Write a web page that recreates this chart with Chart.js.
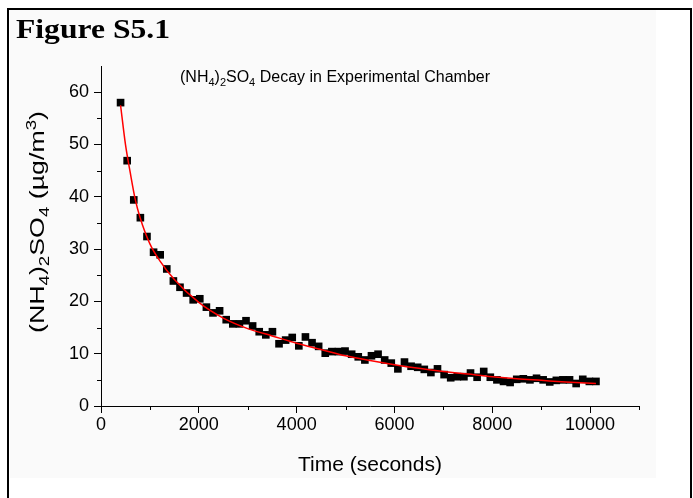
<!DOCTYPE html>
<html>
<head>
<meta charset="utf-8">
<script src="https://cdn.jsdelivr.net/npm/chart.js@4.4.1/dist/chart.umd.min.js"></script>
<style>
  html, body { margin: 0; padding: 0; background: #ffffff; }
  #c { display: block; }
</style>
</head>
<body>
<canvas id="c" width="693" height="498"></canvas>
<script>
// ---- Data ----
const timeSeconds = [400,535,670,805,940,1075,1210,1345,1480,1615,1750,1885,2020,2155,2290,2425,2560,2695,2830,2965,3100,3235,3370,3505,3640,3775,3910,4045,4180,4315,4450,4585,4720,4855,4990,5125,5260,5395,5530,5665,5800,5935,6070,6205,6340,6475,6610,6745,6880,7015,7150,7285,7420,7555,7690,7825,7960,8095,8230,8365,8500,8635,8770,8905,9040,9175,9310,9445,9580,9715,9850,9985,10120];
const concentration = [58.0,46.9,39.4,36.0,32.4,29.4,28.9,26.2,23.9,22.7,21.6,20.3,20.5,18.9,17.8,18.2,16.5,15.7,15.7,16.3,15.3,14.2,13.6,14.2,11.9,12.6,13.1,11.5,13.2,12.1,11.4,10.1,10.4,10.4,10.5,9.9,9.4,8.8,9.6,9.9,8.8,8.2,7.1,8.4,7.6,7.4,7.0,6.4,7.1,6.0,5.4,5.6,5.6,6.3,5.5,6.6,5.5,5.0,4.7,4.5,5.1,5.2,5.0,5.3,5.0,4.6,4.9,5.0,5.0,4.3,5.1,4.7,4.7];
const fitTime = [400,500,600,700,800,1000,1200,1500,2000,2500,3000,3500,4000,4500,5000,5500,6000,6500,7000,7500,8000,8500,9000,9500,10120];
const fitValue = [57.5,50.0,44.5,39.5,36.0,31.0,27.8,24.2,19.8,16.8,14.8,13.4,12.0,10.8,9.6,8.7,7.9,7.2,6.6,6.1,5.6,5.2,4.9,4.6,4.3];
const xMajorTicks = [0,2000,4000,6000,8000,10000];
const xMinorTicks = [1000,3000,5000,7000,9000,11000];
const yMajorTicks = [0,10,20,30,40,50,60];
const yMinorTicks = [5,15,25,35,45,55];
const figureLabel = 'Figure S5.1';
const titleParts = [{t:'(NH'},{t:'4',s:'sub'},{t:')'},{t:'2',s:'sub'},{t:'SO'},{t:'4',s:'sub'},{t:' Decay in Experimental Chamber'}];
const yTitleParts = [{t:'(NH'},{t:'4',s:'sub'},{t:')'},{t:'2',s:'sub'},{t:'SO'},{t:'4',s:'sub'},{t:' (\u00b5g/m'},{t:'3',s:'sup'},{t:')'}];
const xTitle = 'Time (seconds)';

const FONT = "'Liberation Sans', Arial, sans-serif";

function richWidth(ctx, parts, size, ratio) {
  let w = 0;
  for (const p of parts) {
    ctx.font = (p.s ? Math.round(size * ratio) : size) + 'px ' + FONT;
    w += ctx.measureText(p.t).width;
  }
  return w;
}
function drawRich(ctx, parts, x, y, size, ratio) {
  let cx = x;
  ctx.textBaseline = 'alphabetic';
  ctx.textAlign = 'left';
  for (const p of parts) {
    const fs = p.s ? Math.round(size * ratio) : size;
    ctx.font = fs + 'px ' + FONT;
    let dy = 0;
    if (p.s === 'sub') dy = size * 0.24;
    if (p.s === 'sup') dy = -size * 0.42;
    ctx.fillText(p.t, cx, y + dy);
    cx += ctx.measureText(p.t).width;
  }
}

const decorPlugin = {
  id: 'decor',
  beforeDraw(chart) {
    const ctx = chart.ctx;
    ctx.save();
    ctx.fillStyle = '#ffffff';
    ctx.fillRect(0, 0, chart.width, chart.height);
    ctx.fillStyle = '#fafafa';
    ctx.fillRect(10, 10, 646, 468);
    ctx.restore();
  },
  afterDraw(chart) {
    const ctx = chart.ctx;
    const xs = chart.scales.x, ys = chart.scales.y;
    ctx.save();
    ctx.strokeStyle = '#000';
    ctx.lineWidth = 1;
    const bottom = chart.chartArea.bottom, left = chart.chartArea.left;
    ctx.beginPath();
    for (const v of xMinorTicks) {
      const px = Math.round(xs.getPixelForValue(v)) + 0.5;
      ctx.moveTo(px, bottom); ctx.lineTo(px, bottom + 4);
    }
    for (const v of yMinorTicks) {
      const py = Math.round(ys.getPixelForValue(v)) + 0.5;
      ctx.moveTo(left, py); ctx.lineTo(left - 4, py);
    }
    ctx.stroke();
    // outer frame
    ctx.lineWidth = 2;
    ctx.beginPath();
    ctx.moveTo(8, 498); ctx.lineTo(8, 9); ctx.lineTo(691, 9); ctx.lineTo(691, 498);
    ctx.stroke();
    // figure label (slightly wide, as in the reference)
    ctx.fillStyle = '#000';
    ctx.save();
    ctx.font = "bold 27px 'Liberation Serif', 'Times New Roman', serif";
    ctx.textBaseline = 'alphabetic';
    ctx.textAlign = 'left';
    const fw = ctx.measureText(figureLabel).width;
    ctx.translate(16, 38);
    ctx.scale(154 / fw, 1);
    ctx.fillText(figureLabel, 0, 0);
    ctx.restore();
    // chart title
    drawRich(ctx, titleParts, 180, 82, 16, 0.7);
    // x title
    ctx.font = '21px ' + FONT;
    ctx.textAlign = 'center';
    ctx.textBaseline = 'alphabetic';
    ctx.fillText(xTitle, (chart.chartArea.left + chart.chartArea.right) / 2, 471);
    // y title rotated
    const yw = richWidth(ctx, yTitleParts, 20, 0.7);
    const sx = 222 / yw;
    ctx.save();
    ctx.translate(44, 222);
    ctx.rotate(-Math.PI / 2);
    ctx.scale(sx, 1);
    drawRich(ctx, yTitleParts, -yw / 2, 0, 20, 0.7);
    ctx.restore();
    ctx.restore();
  }
};

new Chart(document.getElementById('c'), {
  type: 'scatter',
  data: {
    datasets: [
      {
        label: 'Fit',
        data: fitTime.map((t, i) => ({ x: t, y: fitValue[i] })),
        showLine: true,
        borderColor: '#ff0000',
        borderWidth: 1.5,
        pointRadius: 0,
        cubicInterpolationMode: 'monotone',
        fill: false
      },
      {
        label: '(NH4)2SO4',
        data: timeSeconds.map((t, i) => ({ x: t, y: concentration[i] })),
        showLine: false,
        pointStyle: 'rect',
        pointRadius: 5.4,
        borderWidth: 0,
        backgroundColor: '#000000',
        borderColor: '#000000'
      }
    ]
  },
  options: {
    responsive: false,
    animation: false,
    devicePixelRatio: 1,
    layout: { padding: { left: 0, right: 54, top: 66, bottom: 0 } },
    plugins: { legend: { display: false }, tooltip: { enabled: false }, title: { display: false } },
    scales: {
      x: {
        type: 'linear',
        min: 0, max: 11000,
        afterBuildTicks(scale) { scale.ticks = xMajorTicks.map(v => ({ value: v })); },
        afterFit(scale) { scale.height = 92; },
        grid: { display: true, drawOnChartArea: false, drawTicks: true, tickLength: 7, color: '#000', lineWidth: 1 },
        border: { display: true, color: '#000', width: 1 },
        ticks: { color: '#000', font: { family: FONT, size: 18 }, padding: 1, maxRotation: 0, autoSkip: false,
                 callback: (v) => String(v) }
      },
      y: {
        type: 'linear',
        min: 0, max: 65,
        afterBuildTicks(scale) { scale.ticks = yMajorTicks.map(v => ({ value: v })); },
        afterFit(scale) { scale.width = 101; },
        grid: { display: true, drawOnChartArea: false, drawTicks: true, tickLength: 7, color: '#000', lineWidth: 1 },
        border: { display: true, color: '#000', width: 1 },
        ticks: { color: '#000', font: { family: FONT, size: 18 }, padding: 5, autoSkip: false,
                 callback: (v) => String(v) }
      }
    }
  },
  plugins: [decorPlugin]
});
</script>
</body>
</html>
